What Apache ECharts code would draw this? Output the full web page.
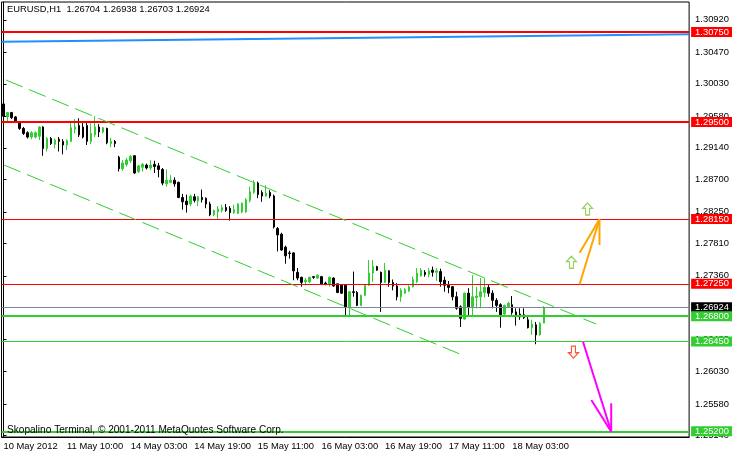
<!DOCTYPE html>
<html><head><meta charset="utf-8">
<script src="https://cdn.jsdelivr.net/npm/echarts@6/dist/echarts.min.js"></script>
<style>html,body{margin:0;padding:0;background:#fff}#c{width:732px;height:455px}</style>
</head><body><div id="c"></div>
<script>
const titleText = 'EURUSD,H1  1.26704 1.26938 1.26703 1.26924';
const copyrightText = 'Skopalino Terminal, \u00A9 2001-2011 MetaQuotes Software Corp.';

const opens = [1.2975,1.2957,1.2963,1.2957,1.2949,1.2941,1.2935,1.2929,1.2929,1.2930,
1.2943,1.2913,1.2927,1.2919,1.2926,1.2923,1.2918,1.2923,1.2940,1.2945,
1.2943,1.2945,1.2923,1.2932,1.2943,1.2936,1.2941,1.2920,1.2923,1.2901,
1.2885,1.2891,1.2896,1.2903,1.2881,1.2887,1.2890,1.2886,1.2891,1.2889,
1.2884,1.2864,1.2866,1.2869,1.2866,1.2845,1.2840,1.2836,1.2846,1.2840,
1.2845,1.2844,1.2836,1.2821,1.2825,1.2827,1.2831,1.2830,1.2824,1.2823,
1.2825,1.2825,1.2841,1.2852,1.2865,1.2852,1.2847,1.2852,1.2847,1.2802,
1.2794,1.2776,1.2768,1.2768,1.2741,1.2734,1.2728,1.2728,1.2735,1.2733,
1.2735,1.2726,1.2725,1.2733,1.2725,1.2723,1.2723,1.2693,1.2714,1.2713,
1.2695,1.2709,1.2723,1.2740,1.2749,1.2741,1.2727,1.2743,1.2727,1.2722,
1.2707,1.2712,1.2715,1.2721,1.2728,1.2736,1.2741,1.2738,1.2744,1.2741,
1.2742,1.2730,1.2723,1.2721,1.2707,1.2693,1.2676,1.2712,1.2693,1.2706,
1.2707,1.2713,1.2720,1.2712,1.2702,1.2696,1.2683,1.2693,1.2696,1.2686,
1.2683,1.2682,1.2675,1.2664,1.2668,1.2654,1.26704];
const highs = [1.2978,1.2964,1.2964,1.2958,1.2950,1.2943,1.2937,1.2937,1.2937,1.2944,
1.2944,1.2929,1.2929,1.2927,1.2929,1.2926,1.2926,1.2949,1.2954,1.2955,
1.2949,1.2951,1.2948,1.2958,1.2947,1.2943,1.2942,1.2928,1.2925,1.2903,
1.2897,1.2900,1.2904,1.2904,1.2890,1.2893,1.2892,1.2897,1.2896,1.2893,
1.2886,1.2884,1.2876,1.2873,1.2867,1.2850,1.2849,1.2849,1.2850,1.2847,
1.2856,1.2845,1.2839,1.2828,1.2833,1.2835,1.2836,1.2833,1.2835,1.2837,
1.2838,1.2844,1.2860,1.2869,1.2867,1.2855,1.2862,1.2855,1.2849,1.2804,
1.2796,1.2778,1.2771,1.2769,1.2747,1.2735,1.2733,1.2735,1.2736,1.2738,
1.2736,1.2728,1.2735,1.2734,1.2725,1.2724,1.2724,1.2715,1.2742,1.2715,
1.2710,1.2724,1.2758,1.2758,1.2750,1.2742,1.2754,1.2744,1.2731,1.2726,
1.2719,1.2719,1.2723,1.2735,1.2747,1.2747,1.2744,1.2747,1.2749,1.2747,
1.2746,1.2735,1.2729,1.2722,1.2714,1.2695,1.2713,1.2719,1.2737,1.2721,
1.2733,1.2733,1.2724,1.2716,1.2705,1.2698,1.2696,1.2700,1.2708,1.2691,
1.2691,1.2691,1.2679,1.2675,1.2672,1.2672,1.26938];
const lows = [1.2947,1.2951,1.2954,1.2950,1.2939,1.2932,1.2927,1.2926,1.2927,1.2925,
1.2903,1.2909,1.2918,1.2913,1.2909,1.2905,1.2911,1.2922,1.2934,1.2929,
1.2927,1.2918,1.2919,1.2929,1.2929,1.2934,1.2919,1.2915,1.2915,1.2881,
1.2882,1.2888,1.2893,1.2878,1.2879,1.2881,1.2884,1.2883,1.2879,1.2873,
1.2862,1.2860,1.2865,1.2860,1.2844,1.2828,1.2824,1.2833,1.2838,1.2833,
1.2838,1.2830,1.2819,1.2819,1.2815,1.2824,1.2825,1.2813,1.2822,1.2822,
1.2823,1.2824,1.2838,1.2850,1.2844,1.2839,1.2846,1.2844,1.2802,1.2770,
1.2771,1.2753,1.2760,1.2730,1.2730,1.2721,1.2723,1.2726,1.2732,1.2732,
1.2724,1.2723,1.2721,1.2721,1.2712,1.2711,1.2680,1.2680,1.2707,1.2694,
1.2694,1.2708,1.2722,1.2728,1.2743,1.2686,1.2726,1.2721,1.2716,1.2702,
1.2700,1.2711,1.2714,1.2720,1.2726,1.2735,1.2735,1.2734,1.2735,1.2729,
1.2721,1.2714,1.2712,1.2702,1.2689,1.2665,1.2675,1.2679,1.2679,1.2691,
1.2691,1.2706,1.2707,1.2691,1.2686,1.2664,1.2682,1.2692,1.2682,1.2667,
1.2675,1.2676,1.2663,1.2654,1.2641,1.2653,1.26703];
const closes = [1.2958,1.2963,1.2956,1.2951,1.2941,1.2934,1.2929,1.2935,1.2935,1.2943,
1.2913,1.2927,1.2920,1.2925,1.2923,1.2918,1.2924,1.2942,1.2943,1.2932,
1.2929,1.2923,1.2934,1.2943,1.2936,1.2942,1.2921,1.2923,1.2920,1.2885,
1.2893,1.2897,1.2902,1.2879,1.2889,1.2891,1.2886,1.2890,1.2888,1.2884,
1.2865,1.2869,1.2869,1.2864,1.2845,1.2839,1.2835,1.2847,1.2841,1.2846,
1.2842,1.2836,1.2821,1.2827,1.2829,1.2831,1.2827,1.2824,1.2828,1.2836,
1.2837,1.2842,1.2853,1.2866,1.2849,1.2847,1.2851,1.2847,1.2804,1.2793,
1.2772,1.2764,1.2767,1.2743,1.2733,1.2727,1.2730,1.2734,1.2734,1.2737,
1.2725,1.2725,1.2734,1.2722,1.2713,1.2712,1.2693,1.2714,1.2713,1.2695,
1.2709,1.2723,1.2740,1.2749,1.2744,1.2727,1.2744,1.2727,1.2722,1.2707,
1.2716,1.2717,1.2721,1.2731,1.2740,1.2744,1.2738,1.2743,1.2741,1.2743,
1.2728,1.2723,1.2720,1.2707,1.2691,1.2677,1.2712,1.2693,1.2707,1.2708,
1.2714,1.2720,1.2712,1.2702,1.2695,1.2682,1.2695,1.2698,1.2685,1.2681,
1.2679,1.2678,1.2664,1.2669,1.2654,1.2670,1.26924];

const yTickValues = [1.3092,1.3047,1.3003,1.2958,1.2914,1.2870,1.2825,1.2781,1.2736,1.2692,1.2648,1.2603,1.2558,1.2514];
const xTickLabels = ['10 May 2012','11 May 10:00','14 May 03:00','14 May 19:00','15 May 11:00','16 May 03:00','16 May 19:00','17 May 11:00','18 May 03:00'];
const levelValues = [1.3075,1.2950,1.2815,1.2725,1.2680,1.2645,1.2520];
const lastPrice = 1.26924;
// drawn objects (bar index, price)
const blueLine = [[-0.5,1.30614],[172.5,1.30718]];
const channelUpper = [[0.6,1.30083],[149.1,1.26691]];
const channelLower = [[0.1,1.28902],[115.1,1.26268]];
const orangeMain = [[144.95,1.27243],[149.95,1.28147]];
const orangeBarbA = [[144.95,1.27683],[149.95,1.28147]];
const orangeBarbB = [[149.95,1.27790],[149.95,1.28147]];
const magentaMain = [[145.8,1.26445],[152.9,1.25194]];
const magentaBarbA = [[147.9,1.25635],[152.9,1.25194]];
const magentaBarbB = [[152.9,1.25589],[152.9,1.25194]];
const upArrows = [[146.95,1.2829],[142.9,1.2755]];
const downArrows = [[143.4,1.2630]];

const N = 173;
const categories = [];
(function(){
  const pad = n => (n < 10 ? '0' : '') + n;
  let t = Date.UTC(2012, 4, 10, 18);
  while (categories.length < N) {
    const d = new Date(t), wd = d.getUTCDay(), h = d.getUTCHours();
    const closed = (wd === 5 && h >= 23) || wd === 6 || wd === 0;
    if (!closed) categories.push(d.getUTCFullYear() + '.' + pad(d.getUTCMonth() + 1) + '.' + pad(d.getUTCDate()) + ' ' + pad(h) + ':00');
    t += 3600000;
  }
})();

const RED = '#FF0000', GREEN = '#32CD32';
const levelStyle = [
  {c: RED, w: 2}, {c: RED, w: 2}, {c: RED, w: 1}, {c: RED, w: 1},
  {c: GREEN, w: 2}, {c: GREEN, w: 1}, {c: GREEN, w: 2}
];
const FONT = '"Liberation Sans", Arial, sans-serif';
const FS = 9.4;

function tag(value, color, bg, width) {
  return {
    yAxis: value,
    lineStyle: {color: color, width: width, type: 'solid', opacity: 1},
    label: {
      show: true, position: 'end', distance: 2,
      formatter: value.toFixed(5),
      color: '#fff', backgroundColor: bg,
      fontFamily: FONT, fontSize: FS, lineHeight: 10,
      padding: [0, 40, 0, 4]
    }
  };
}
const markData = [tag(lastPrice, '#778899', '#000', 1)];
levelValues.forEach((v, i) => markData.push(tag(v, levelStyle[i].c, levelStyle[i].c, levelStyle[i].w)));

const tickShown = idx => idx % 16 === 0 && idx / 16 < xTickLabels.length;

function seg(data, color, width, dash) {
  return {
    type: 'line', xAxisIndex: 1, yAxisIndex: 0, data: data,
    showSymbol: false, symbol: 'none', silent: true, z: 5,
    lineStyle: {color: color, width: width, type: dash || 'solid'}
  };
}

const blueSeries = seg(blueLine, '#1E90FF', 2);
blueSeries.markLine = {symbol: 'none', silent: true, animation: false, precision: 5, data: markData};

const chart = echarts.init(document.getElementById('c'), null, {renderer: 'canvas'});
chart.setOption({
  animation: false,
  backgroundColor: '#fff',
  grid: {left: 1.5, top: 2, width: 692, height: 435, show: true, borderColor: '#000', borderWidth: 1, backgroundColor: '#fff'},
  xAxis: [{
    type: 'category', data: categories, boundaryGap: true,
    axisLine: {lineStyle: {color: '#000', width: 1}},
    axisTick: {alignWithLabel: true, interval: tickShown, length: 5, lineStyle: {color: '#000'}},
    axisLabel: {
      interval: tickShown, align: 'left', margin: 5,
      formatter: (val, idx) => xTickLabels[idx / 16],
      color: '#000', fontFamily: FONT, fontSize: FS
    },
    splitLine: {show: false}
  }, {
    type: 'value', min: -0.5, max: N - 0.5, show: false, gridIndex: 0
  }],
  yAxis: [{
    type: 'value', position: 'right', min: 1.25121, max: 1.31167, scale: true,
    axisLine: {show: true, lineStyle: {color: '#000', width: 1}},
    axisTick: {show: true, length: 3, customValues: yTickValues, lineStyle: {color: '#000'}},
    axisLabel: {customValues: yTickValues, margin: 6, formatter: v => v.toFixed(5), color: '#000', fontFamily: FONT, fontSize: FS},
    splitLine: {show: false}
  }],
  series: [
    {
      type: 'candlestick', xAxisIndex: 0, yAxisIndex: 0, z: 3,
      data: opens.map((o, i) => [o, closes[i], lows[i], highs[i]]),
      barWidth: 2,
      itemStyle: {color: GREEN, color0: '#000', borderColor: GREEN, borderColor0: '#000', borderWidth: 1}
    },
    blueSeries,
    seg(channelUpper, GREEN, 1, [18, 7]),
    seg(channelLower, GREEN, 1, [18, 7]),
    seg(orangeMain, '#FFA500', 2),
    seg(orangeBarbA, '#FFA500', 2),
    seg(orangeBarbB, '#FFA500', 2),
    seg(magentaMain, '#FF00FF', 2),
    seg(magentaBarbA, '#FF00FF', 2),
    seg(magentaBarbB, '#FF00FF', 2),
    {
      type: 'scatter', xAxisIndex: 1, yAxisIndex: 0, data: upArrows, z: 6, silent: true,
      symbol: 'path://M5 0L10 5H7V11H3V5H0Z', symbolSize: [10, 12],
      itemStyle: {color: 'rgba(255,255,255,0)', borderColor: '#7CC83A', borderWidth: 1.2}
    },
    {
      type: 'scatter', xAxisIndex: 1, yAxisIndex: 0, data: downArrows, z: 6, silent: true,
      symbol: 'path://M3 0H7V6H10L5 11L0 6H3Z', symbolSize: [10, 12],
      itemStyle: {color: 'rgba(255,255,255,0)', borderColor: '#FF2A00', borderWidth: 1.2}
    }
  ],
  graphic: [
    {type: 'text', left: 7, top: 5, z: 100, style: {text: titleText, fill: '#000', font: FS + 'px ' + FONT}},
    {type: 'text', left: 7, top: 425, z: 100, style: {text: copyrightText, fill: '#000', font: '10.1px ' + FONT}}
  ]
});
</script>
</body></html>
